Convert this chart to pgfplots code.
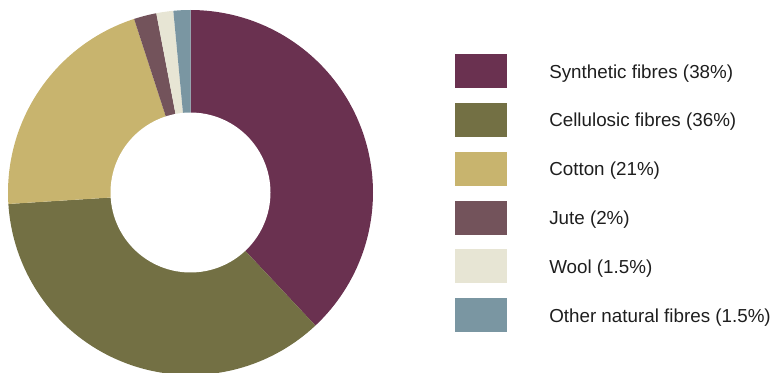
\documentclass[border=0pt]{standalone}
\usepackage{pgfplots}
\pgfplotsset{compat=1.18}
\usepackage{fontspec}
\setmainfont{Liberation Sans}
\definecolor{cSyn}{HTML}{6A3150}
\definecolor{cCel}{HTML}{737044}
\definecolor{cCot}{HTML}{C8B46E}
\definecolor{cJut}{HTML}{73535B}
\definecolor{cWoo}{HTML}{E7E5D4}
\definecolor{cOth}{HTML}{7A96A2}
\definecolor{txt}{HTML}{1E1E1E}
% shares in percent
\def\vA{38}\def\vB{36}\def\vC{21}\def\vD{2}\def\vE{1.5}\def\vF{1.5}
\def\cx{190.5}\def\cy{179.5}\def\R{182.5}\def\r{80}
\begin{document}
\begin{tikzpicture}
\useasboundingbox (0,0) rectangle (578.25pt,279pt);
\begin{axis}[
  anchor=south west, at={(0,0)},
  x=0.75pt, y=0.75pt,
  xmin=0, xmax=771, ymin=0, ymax=372,
  hide axis, clip=true,
  legend image code/.code={\fill[#1] (0pt,-7.7pt) rectangle (39pt,17.8pt);},
  legend style={at={(axis cs:455,318)}, anchor=north west, draw=none, fill=none,
    inner sep=0pt, row sep=11.1pt, cells={anchor=base west},
    nodes={inner sep=0pt, font=\fontsize{14.1pt}{17pt}\selectfont, text=txt},
    /tikz/every odd column/.append style={column sep=31.5pt}},
  every axis plot/.append style={draw=none, samples=80, variable=\t},
]
\addplot[fill=cSyn, domain={90-3.6*\vA}:{90}]
  ({\cx+\R*cos(\t)},{\cy+\R*sin(\t)}) -- (axis cs:\cx,\cy) -- cycle;
\addlegendentry{Synthetic fibres (38\%)}
\addplot[fill=cCel, domain={90-3.6*(\vA+\vB)}:{90-3.6*\vA}]
  ({\cx+\R*cos(\t)},{\cy+\R*sin(\t)}) -- (axis cs:\cx,\cy) -- cycle;
\addlegendentry{Cellulosic fibres (36\%)}
\addplot[fill=cCot, domain={90-3.6*(\vA+\vB+\vC)}:{90-3.6*(\vA+\vB)}]
  ({\cx+\R*cos(\t)},{\cy+\R*sin(\t)}) -- (axis cs:\cx,\cy) -- cycle;
\addlegendentry{Cotton (21\%)}
\addplot[fill=cJut, samples=10, domain={90-3.6*(\vA+\vB+\vC+\vD)}:{90-3.6*(\vA+\vB+\vC)}]
  ({\cx+\R*cos(\t)},{\cy+\R*sin(\t)}) -- (axis cs:\cx,\cy) -- cycle;
\addlegendentry{Jute (2\%)}
\addplot[fill=cWoo, samples=10, domain={90-3.6*(\vA+\vB+\vC+\vD+\vE)}:{90-3.6*(\vA+\vB+\vC+\vD)}]
  ({\cx+\R*cos(\t)},{\cy+\R*sin(\t)}) -- (axis cs:\cx,\cy) -- cycle;
\addlegendentry{Wool (1.5\%)}
\addplot[fill=cOth, samples=10, domain={90-3.6*(\vA+\vB+\vC+\vD+\vE+\vF)}:{90-3.6*(\vA+\vB+\vC+\vD+\vE)}]
  ({\cx+\R*cos(\t)},{\cy+\R*sin(\t)}) -- (axis cs:\cx,\cy) -- cycle;
\addlegendentry{Other natural fibres (1.5\%)}
\addplot[fill=white, domain=0:360, samples=120, forget plot]
  ({\cx+\r*cos(\t)},{\cy+\r*sin(\t)}) -- cycle;
\end{axis}
\end{tikzpicture}
\end{document}
